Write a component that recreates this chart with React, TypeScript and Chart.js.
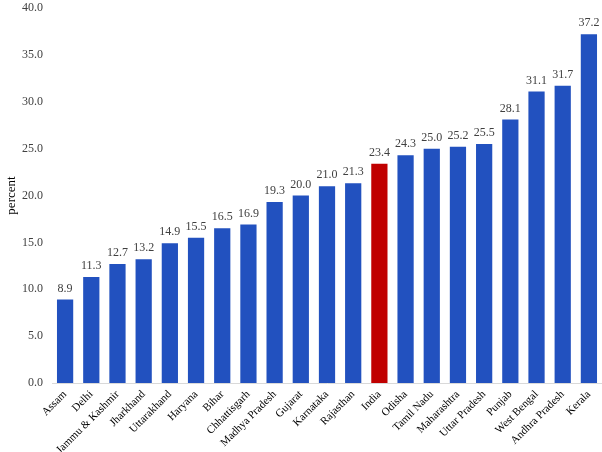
import React, { useEffect, useRef } from "react";
import { Chart, registerables } from "chart.js";

Chart.register(...registerables);

const categories = [
  "Assam", "Delhi", "Jammu & Kashmir", "Jharkhand", "Uttarakhand", "Haryana", "Bihar",
  "Chhattisgarh", "Madhya Pradesh", "Gujarat", "Karnataka", "Rajasthan", "India", "Odisha",
  "Tamil Nadu", "Maharashtra", "Uttar Pradesh", "Punjab", "West Bengal", "Andhra Pradesh", "Kerala",
];
const values = [
  8.9, 11.3, 12.7, 13.2, 14.9, 15.5, 16.5, 16.9, 19.3, 20.0, 21.0, 21.3, 23.4, 24.3,
  25.0, 25.2, 25.5, 28.1, 31.1, 31.7, 37.2,
];
const highlight = "India";
const yTicks = [0, 5, 10, 15, 20, 25, 30, 35, 40];

const FONT = "'Liberation Serif', 'Times New Roman', serif";

const labelPlugin = {
  id: "valueLabels",
  afterDatasetsDraw(chart: any) {
    const ctx = chart.ctx;
    const meta = chart.getDatasetMeta(0);
    ctx.save();
    ctx.font = `12px ${FONT}`;
    ctx.fillStyle = "#404040";
    ctx.textAlign = "center";
    ctx.textBaseline = "bottom";
    meta.data.forEach((bar: any, i: number) => {
      ctx.fillText(values[i].toFixed(1), bar.x, bar.y - 5);
    });
    ctx.restore();
  },
};

export default function App() {
  const ref = useRef<HTMLCanvasElement>(null);
  useEffect(() => {
    if (!ref.current) return;
    const chart = new Chart(ref.current, {
      type: "bar",
      data: {
        labels: categories,
        datasets: [
          {
            data: values,
            backgroundColor: categories.map((c) => (c === highlight ? "#C00000" : "#2251BF")),
            barPercentage: 0.62,
            categoryPercentage: 1,
          },
        ],
      },
      options: {
        responsive: false,
        animation: false,
        layout: { padding: { top: 8, right: 0, left: 0, bottom: 0 } },
        plugins: { legend: { display: false }, tooltip: { enabled: false } },
        scales: {
          x: {
            grid: { display: false },
            border: { display: true, color: "#d9d9d9", width: 1 },
            ticks: {
              autoSkip: false,
              maxRotation: 45,
              minRotation: 45,
              font: { family: FONT, size: 11 },
              color: "#000",
              padding: -3,
            },
            afterFit: (s: any) => {
              s.height = 69;
            },
          },
          y: {
            min: 0,
            max: 40,
            afterBuildTicks: (s: any) => {
              s.ticks = yTicks.map((v) => ({ value: v }));
            },
            grid: { display: false },
            border: { display: false },
            ticks: {
              callback: (v: any) => Number(v).toFixed(1),
              font: { family: FONT, size: 12 },
              color: "#404040",
              padding: 1,
            },
            title: {
              display: true,
              text: "percent",
              font: { family: FONT, size: 13 },
              color: "#000",
              padding: { top: 4, bottom: 0 },
            },
            afterFit: (s: any) => {
              s.width = 52;
              s.paddingTop = 0;
              s.paddingBottom = 0;
            },
          },
        },
      },
      plugins: [labelPlugin],
    });
    return () => chart.destroy();
  }, []);
  return (
    <div style={{ position: "absolute", left: 0, top: 0, width: 602, height: 452, background: "#fff" }}>
      <canvas ref={ref} width={602} height={452} />
    </div>
  );
}
